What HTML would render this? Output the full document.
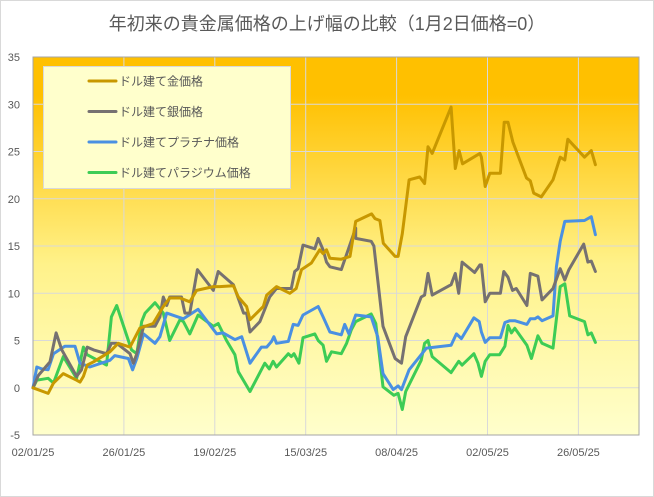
<!DOCTYPE html>
<html><head><meta charset="utf-8"><style>
html,body{margin:0;padding:0;background:#fff}
svg{display:block;font-family:"Liberation Sans","Noto Sans CJK JP",sans-serif}
</style></head><body>
<svg id="chart" width="654" height="497" viewBox="0 0 654 497">
<defs>
<linearGradient id="bg" x1="0" y1="0" x2="0" y2="1">
<stop offset="0" stop-color="#FFC000"/><stop offset="0.1" stop-color="#FFC000"/>
<stop offset="0.55" stop-color="#FFF28A"/><stop offset="1" stop-color="#FFFFCC"/>
</linearGradient>
</defs>
<rect x="0.5" y="0.5" width="653" height="496" fill="#fff" stroke="#d9d9d9"/>
<text x="327" y="30" text-anchor="middle" font-size="18" fill="#595959">年初来の貴金属価格の上げ幅の比較（1月2日価格=0）</text>
<rect x="33" y="57" width="606" height="378" fill="url(#bg)"/>
<g id="grid"></g><g id="axes"></g><g id="series"></g>
<g id="legend"></g>
</svg>
<script>
const yTicks=[-5,0,5,10,15,20,25,30,35];
const xTickDays=[0,24,48,72,96,120,144];
const xTickLabels=["02/01/25","26/01/25","19/02/25","15/03/25","08/04/25","02/05/25","26/05/25"];
const seriesNames=["ドル建て金価格","ドル建て銀価格","ドル建てプラチナ価格","ドル建てパラジウム価格"];
const seriesColors=["#C89800","#767171","#4A90E2","#3DCC55"];
const goldDays=[0,4,5.4,8,11.5,12.4,13.3,14.3,16,20.3,22.5,25.6,28.2,31.7,34.4,36.1,38.8,41.4,43.2,47.6,49.3,52.9,54.2,56.4,57.3,60.8,61.7,64.3,67.8,69.5,70.9,73.5,75.7,76.6,77.5,78.4,81.4,83.7,85.2,89.4,90.3,91.6,92.5,95.6,96.4,97.5,99.3,102.1,103.4,104.3,105.4,110.4,111.5,112.5,113.4,118,118.4,119.4,120.6,123.4,124.4,125.4,126.7,130.3,131.3,132.2,134.2,137.3,139.2,140.4,141.2,145.6,147.4,148.5];
const goldVals=[0,-0.6,0.5,1.5,0.8,0.6,1.2,2.4,2.75,3.8,4.7,4.3,6.3,6.8,8.6,9.5,9.5,9.1,10.3,10.7,10.7,10.8,9.6,8.6,7.2,8.6,9.8,10.7,10,10.5,12.5,13.2,14.6,14.2,14.6,13.7,13.6,13.9,17.6,18.4,17.9,17.7,15.3,13.9,13.9,16.3,22,22.3,21.6,25.5,24.8,29.7,23.2,25.1,23.7,24.8,24.4,21.3,22.7,22.7,28.1,28.1,26,22.2,21.9,20.6,20.2,22,24.4,24.1,26.3,24.4,25.1,23.6];
const silverDays=[0,1.4,4.5,6.1,7.6,11.5,12.8,14.3,16,19.4,20.7,22.1,25.6,26.5,27.4,29.2,32.2,33.5,34.4,35.3,36.1,39.2,40.1,41.4,43.4,47.6,48.9,52.9,55.6,56.4,57.3,59.9,62.5,64.3,68.2,69.1,70,71.3,74.4,75.3,76.6,77.5,78.4,81.4,85.2,85.2,89.3,90,92.4,95.6,97.3,98.4,102.5,103.4,104.3,105.4,110.4,111.5,112.4,113.3,116.6,118,118.4,119.4,120.6,123.4,124.3,125.4,126.6,127.6,130.4,131.3,133.3,134.4,137.3,139.2,140.4,141.5,145.4,146.5,147.4,148.5];
const silverVals=[0,1.3,2.75,5.8,4,1.2,1.9,4.3,4,3.6,4.7,4.7,3.6,2.6,3.6,6.5,6.5,7.5,9.6,8.7,9.6,9.6,7.9,7.9,12.5,10.3,12.3,10.9,7.9,7.9,5.9,7,9.6,10.5,10.5,12.3,12.6,15.1,14.7,15.8,14.6,13.3,12.8,12.5,16.9,15.8,15.5,15,6.5,3.1,2.6,5.4,9.6,9.8,12.1,9.8,10.9,12.1,10,13.3,12.2,13,13,9.1,10,10,12.3,11.7,10.3,10.5,8.7,12.1,11.8,9.3,10.5,12.6,11.4,12.5,15.2,13.3,13.4,12.3];
const platDays=[0,1,2.3,4,5.4,8.4,11.1,12.4,15,20.3,21.6,25.2,26.3,27.4,29.2,32.2,33.5,35.3,39.7,43.6,48.5,50.2,53.3,55.1,57.3,60.3,61.7,63,63.6,64.3,67.4,68.7,70,71.3,75.3,76.6,78.4,81.4,82.3,83.4,85.2,89.3,91,92.4,95.1,96.4,97.3,99.3,103.9,110.4,111.8,113.1,116.4,117.8,118.4,119.4,120.6,123.4,124.6,125.9,127.2,130.4,131.3,132.5,133.3,134.4,137.3,138.2,139.2,140.4,145.6,147.4,148.5];
const platVals=[0,2.2,2,1.9,3.6,4.4,4.4,2.6,2.2,2.9,3.4,3.1,1.9,3.1,5.7,4.7,5.4,7.9,7.3,8.3,5.7,5.8,5.1,5.4,2.6,4.3,4.3,4.9,5.4,4.7,4.9,6.7,6.6,7.7,8.6,7.5,5.9,5.6,6.7,5.7,7.7,7.5,5.4,1.5,-0.2,0.2,-0.2,1.9,4.2,4.5,5.7,5.2,7.4,7,5.9,4.8,5.3,5.3,6.9,7.1,7.1,6.7,7.3,7.3,7.5,7.1,7.6,12.8,15.5,17.6,17.7,18.1,16.2];
const pallDays=[0,1,4,5.4,8,11.5,13.3,14.3,19.4,20.7,22.1,26,27.4,28.7,29.6,32.2,34.4,36.1,38.8,39.7,41.4,43.6,47.6,48.9,51.1,53.3,54.2,57.3,61.2,62.4,63.4,64.3,67.4,68.2,68.9,70.2,71.3,74.4,75.3,76.6,77.5,78.8,81.4,82.8,84,85.2,89.3,90.5,92.4,95.3,96.4,97.5,98.4,102.5,103.4,104.3,105.4,110.4,112.4,113.3,116.4,117.5,118.4,119.4,120.6,123.2,124.6,125.4,126.3,127.2,130.4,131.6,133.3,134.4,137.3,139.2,140.4,141.7,145.6,146.5,147.4,148.5];
const pallVals=[0,0.8,1,0.5,3.3,1,4.3,3.5,2.4,7.5,8.7,4,3.6,7,7.9,9,7.9,5,7.2,7,5.7,7.7,6.5,6.8,5,3.5,1.7,-0.4,2.6,2,2.8,2.2,3.6,3.3,3.6,2.6,5.3,5.7,5,4.5,2.8,3.8,3.6,4.7,6.1,7,7.8,6.8,0.1,-0.8,-0.6,-2.3,-0.4,2.9,4.7,5,3.3,1.6,2.8,2.4,3.6,2.6,1.2,2.8,3.5,3.5,4.4,6.6,5.8,6.3,4.5,3.1,5.5,4.7,4.2,10.7,11,7.6,7,5.6,5.8,4.8];

const NS="http://www.w3.org/2000/svg";
const L=33,R=639,T=57,B=435,xMin=0,xMax=160,yMin=-5,yMax=35;
const xs=d=>L+(d-xMin)/(xMax-xMin)*(R-L);
const ys=v=>B-(v-yMin)/(yMax-yMin)*(B-T);
function mk(tag,attrs,parent){const e=document.createElementNS(NS,tag);for(const k in attrs)e.setAttribute(k,attrs[k]);parent.appendChild(e);return e;}
const grid=document.getElementById('grid'),axes=document.getElementById('axes'),ser=document.getElementById('series'),leg=document.getElementById('legend');
yTicks.forEach(v=>{
  const ln=mk('line',{x1:L,x2:R,y1:ys(v),y2:ys(v),stroke:'#d9d9d9','stroke-width':1},grid);
  
  
  const t=mk('text',{x:20,y:ys(v)+4,'text-anchor':'end','font-size':11,fill:'#595959'},axes);
  t.textContent=v;
  
  
});
xTickDays.forEach((d,i)=>{
  const ln=mk('line',{x1:xs(d),x2:xs(d),y1:T,y2:B,stroke:'#d9d9d9','stroke-width':1},grid);
  
  
  const t=mk('text',{x:xs(d),y:456,'text-anchor':'middle','font-size':11,fill:'#595959'},axes);
  t.textContent=xTickLabels[i];
  
  
});
const bx=mk('rect',{x:L,y:T,width:R-L,height:B-T,fill:'none',stroke:'#a6a6a6','stroke-width':1},axes);


const all=[[goldDays,goldVals],[silverDays,silverVals],[platDays,platVals],[pallDays,pallVals]];
const keys=['gold','silver','platinum','palladium'];
[3,2,1,0].forEach(i=>{
  const [ds,vs]=all[i];
  const pts=ds.map((d,j)=>xs(d).toFixed(1)+','+ys(vs[j]).toFixed(1)).join(' ');
  const p=mk('polyline',{points:pts,fill:'none',stroke:seriesColors[i],'stroke-width':3,'stroke-linejoin':'round','stroke-linecap':'round'},ser);
  
  
});
const lb=mk('rect',{x:43.5,y:66.5,width:247,height:122,fill:'#FFFFCC',stroke:'#d9d9d9'},leg);


seriesNames.forEach((n,i)=>{
  const y=81+i*30.5;
  const ln=mk('line',{x1:89,x2:116,y1:y,y2:y,stroke:seriesColors[i],'stroke-width':3,'stroke-linecap':'round'},leg);
  
  
  const t=mk('text',{x:119,y:y+4.5,'font-size':12,fill:'#595959'},leg);
  t.textContent=n;
  
  
});
</script>
</body></html>
